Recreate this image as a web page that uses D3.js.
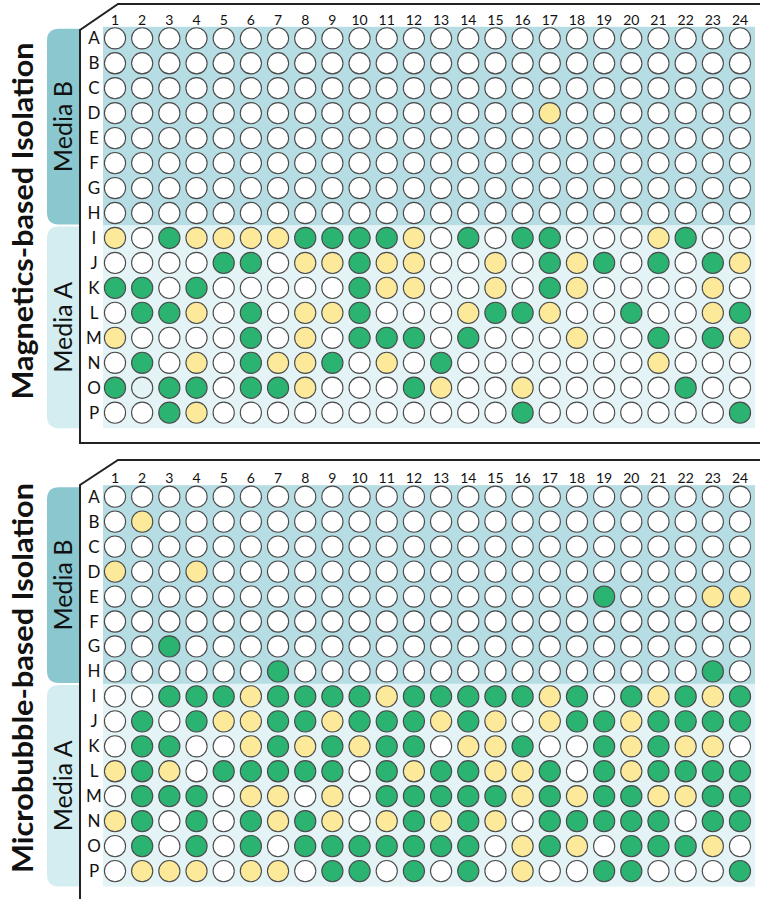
<!DOCTYPE html>
<html>
<head>
<meta charset="utf-8">
<script src="https://cdn.jsdelivr.net/npm/d3@7"></script>
<style>
  html, body { margin: 0; padding: 0; background: #fff; }
  svg { display: block; }
  text { font-family: Lato, "Noto Sans", sans-serif; fill: #111; }
</style>
</head>
<body>
<svg id="chart" width="760" height="899"></svg>
<script>
// ---------------- DATA ----------------
const columns = d3.range(1, 25);
const rowsMediaB = ["A", "B", "C", "D", "E", "F", "G", "H"];
const rowsMediaA = ["I", "J", "K", "L", "M", "N", "O", "P"];
const plateTitles = ["Magnetics-based Isolation", "Microbubble-based Isolation"];
const mediaLabels = ["Media B", "Media A"];
// well codes: w = white, y = yellow, g = green, n = empty (no fill)
const magneticsMediaB = [
  "wwwwwwwwwwwwwwwwwwwwwwww",
  "wwwwwwwwwwwwwwwwwwwwwwww",
  "wwwwwwwwwwwwwwwwwwwwwwww",
  "wwwwwwwwwwwwwwwwywwwwwww",
  "wwwwwwwwwwwwwwwwwwwwwwww",
  "wwwwwwwwwwwwwwwwwwwwwwww",
  "wwwwwwwwwwwwwwwwwwwwwwww",
  "wwwwwwwwwwwwwwwwwwwwwwww"
];
const magneticsMediaA = [
  "ywgyyyyggggywgwggwwwygww",
  "wwwwggwyygyywwywgygwgwgy",
  "ggwgwwwwwgyywwywgywwwwyw",
  "wggywgwyygwwwyggywwgwwyg",
  "ywwwwgwywgggwgwwwywwgwgy",
  "wgwywgyygwywgwwwwwwwywww",
  "gnggwggywwwgywwywwwwwgww",
  "wwgywwwwwwwwwwwgwwwwwwwg"
];
const microbubbleMediaB = [
  "wwwwwwwwwwwwwwwwwwwwwwww",
  "wywwwwwwwwwwwwwwwwwwwwww",
  "wwwwwwwwwwwwwwwwwwwwwwww",
  "ywwywwwwwwwwwwwwwwwwwwww",
  "wwwwwwwwwwwwwwwwwwgwwwyy",
  "wwwwwwwwwwwwwwwwwwwwwwww",
  "wwgwwwwwwwwwwwwwwwwwwwww",
  "wwwwwwgwwwwwwwwwwwwwwwgw"
];
const microbubbleMediaA = [
  "wwgggyggggygggggygwgygyg",
  "wgwgyyggygggygywyggygggg",
  "wggwwygygyggwyygwwgygyyw",
  "ygywgggggwgyggyygwgygggg",
  "wgggwyywywgggggygyggyygg",
  "ygwgwgygywygygywgggggwgg",
  "wgwgwgwgggggggwygywgggyw",
  "wyyywyywggwgwgwywwggwwwg"
];

// ---------------- STYLE ----------------
const fillColor = { w: "#ffffff", y: "#fde99a", g: "#2bb371", n: "none" };
const bgB = "#b6dde3", bgA = "#e4f3f6";
const tabB = "#8bc7cf", tabA = "#d4edf1";

const svg = d3.select("#chart");
const allRows = rowsMediaB.concat(rowsMediaA);
const x = d3.scaleLinear().domain([1, 24]).range([115, 740]);
const yRel = d3.scalePoint().domain(allRows).range([0, 374.4]);

const plates = [
  { title: plateTitles[0], b: magneticsMediaB, a: magneticsMediaA, y0: 38.3,
    topLine: 4, chamferY: 30, bottomLine: 443, titleY: 221, titleLen: 357 },
  { title: plateTitles[1], b: microbubbleMediaB, a: microbubbleMediaA, y0: 496.7,
    topLine: 460, chamferY: 485, bottomLine: null, titleY: 678, titleLen: 390 }
];

plates.forEach(p => {
  const g = svg.append("g");
  const y = r => p.y0 + yRel(r);
  const bgTop = p.y0 - 11.5;
  const mid = (y("H") + y("I")) / 2;
  const bgBottom = y("P") + 15.5;
  const xL = 103, xR = 755;

  // backgrounds
  g.append("rect").attr("x", xL).attr("y", bgTop).attr("width", xR - xL).attr("height", mid - bgTop).attr("fill", bgB);
  g.append("rect").attr("x", xL).attr("y", mid).attr("width", xR - xL).attr("height", bgBottom - mid).attr("fill", bgA);

  // tabs with rounded left corners
  const tab = (t, b, color) => {
    const l = 47, r = 80, rad = 12;
    g.append("path")
      .attr("d", `M${r},${t} L${l + rad},${t} Q${l},${t} ${l},${t + rad} L${l},${b - rad} Q${l},${b} ${l + rad},${b} L${r},${b} Z`)
      .attr("fill", color);
  };
  tab(bgTop + 2, mid - 1, tabB);
  tab(mid + 1, bgBottom, tabA);

  // media labels
  [[mediaLabels[0], (bgTop + 2 + mid - 1) / 2], [mediaLabels[1], (mid + 1 + bgBottom) / 2]].forEach(([lab, cy]) => {
    g.append("text").attr("transform", `translate(72,${cy}) rotate(-90)`)
      .attr("text-anchor", "middle").attr("font-size", 25).text(lab);
  });

  // plate title
  g.append("text").attr("transform", `translate(32.5,${p.titleY}) rotate(-90)`)
    .attr("text-anchor", "middle").attr("font-size", 29).attr("font-weight", 700)
    .attr("textLength", p.titleLen).attr("lengthAdjust", "spacingAndGlyphs")
    .text(p.title);

  // frame
  const frame = d3.path();
  frame.moveTo(760, p.topLine);
  frame.lineTo(118, p.topLine);
  frame.lineTo(80, p.chamferY);
  if (p.bottomLine !== null) { frame.lineTo(80, p.bottomLine); frame.lineTo(760, p.bottomLine); }
  else { frame.lineTo(80, 899); }
  g.append("path").attr("d", frame.toString()).attr("fill", "none").attr("stroke", "#222").attr("stroke-width", 2);

  // column labels
  g.selectAll("text.col").data(columns).join("text").attr("class", "col")
    .attr("x", d => x(d)).attr("y", p.y0 - 13.3).attr("text-anchor", "middle")
    .attr("font-size", 14).text(d => d);

  // row labels
  g.selectAll("text.row").data(allRows).join("text").attr("class", "row")
    .attr("x", 94).attr("y", d => y(d) + 6).attr("text-anchor", "middle")
    .attr("font-size", 17).text(d => d);

  // wells
  const codes = p.b.concat(p.a);
  const wells = [];
  allRows.forEach((r, i) => columns.forEach((c, j) => wells.push({ r, c, v: codes[i][j] })));
  g.selectAll("circle").data(wells).join("circle")
    .attr("cx", d => x(d.c)).attr("cy", d => y(d.r)).attr("r", 10.6)
    .attr("fill", d => fillColor[d.v])
    .attr("stroke", "#4a4a4a").attr("stroke-width", 1.1);
});
</script>
</body>
</html>
